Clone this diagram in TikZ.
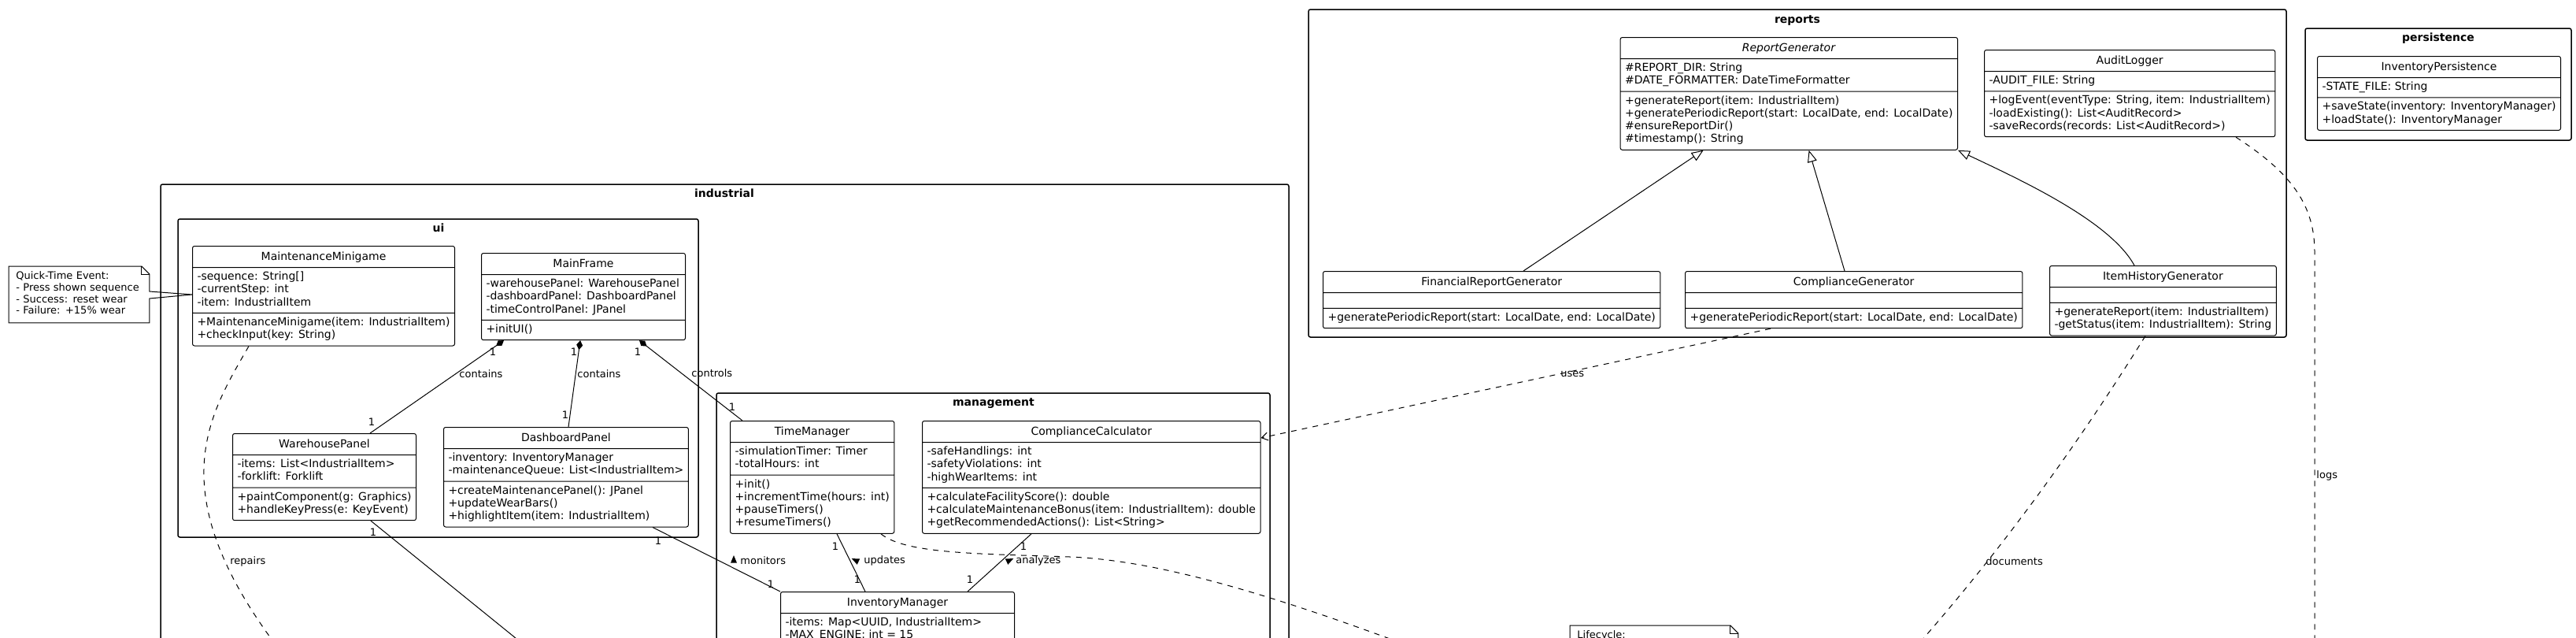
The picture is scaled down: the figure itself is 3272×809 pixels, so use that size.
\documentclass[tikz,border=0pt]{standalone}
\usepackage{fontspec}
\setmainfont{DejaVu Sans}
\usetikzlibrary{arrows.meta,positioning,calc,shapes.multipart,shapes.geometric}

\newcommand\clsfont{\fontsize{7pt}{8.15pt}\selectfont}
\newcommand\notefont{\fontsize{6.5pt}{7.3pt}\selectfont}
\newcommand\ls{\rule[-2.445pt]{0pt}{8.15pt}}% member line
\newcommand\hs{\rule[-2.5pt]{0pt}{9pt}}% class name line
\newcommand\ns{\rule[-2.19pt]{0pt}{7.3pt}}% note line

\tikzset{
  cls/.style={rectangle split, rectangle split parts=3,
    rectangle split part align={center,left,left},
    rectangle split empty part height=0pt, rectangle split empty part depth=0pt,
    rectangle split empty part width=0pt,
    draw=black, line width=0.5pt, fill=white, rounded corners=1.25pt,
    inner xsep=3pt, inner ysep=2pt, align=left, font=\clsfont,
    minimum width=#1*0.5pt, anchor=north west},
  pkg/.style={draw=black, line width=0.75pt, rounded corners=1.25pt},
  pkgtitle/.style={font=\fontsize{7pt}{8pt}\selectfont\bfseries, inner sep=0pt, anchor=base},
  notebox/.style={draw=none, inner xsep=4.5pt, inner ysep=3.15pt, align=left, font=\notefont, anchor=north west},
  notel/.style={draw=black, line width=0.5pt},
  gen/.style={-{Triangle[open,length=7.5pt,width=6pt]}, line width=0.5pt},
  comp/.style={{Diamond[length=6pt,width=4pt]}-, line width=0.5pt},
  assoc/.style={line width=0.5pt},
  dep/.style={line width=0.5pt, dash pattern=on 3.5pt off 3.5pt},
  mult/.style={font=\notefont, inner sep=0pt},
  elabel/.style={font=\notefont, inner sep=0pt, anchor=west},
  dirtri/.style={isosceles triangle, isosceles triangle apex angle=45, fill=black, draw=none, inner sep=0pt, minimum size=4pt}
}

\begin{document}
\begin{tikzpicture}[x=0.5pt,y=-0.5pt]
\path[use as bounding box, fill=white] (0,0) rectangle (3272,809);
\clip (0,0) rectangle (3272,809);

% packages
\draw[pkg] (1662,12) rectangle (2904,428);
\node[pkgtitle] (reportsT) at (2283,29) {reports};
\draw[pkg] (2928,36) rectangle (3266,178);
\node[pkgtitle] (persistT) at (3097,52) {persistence};
\draw[pkg] (204,234) rectangle (1637,1000);
\node[pkgtitle] (industrialT) at (920,250) {industrial};
\draw[pkg] (226,278) rectangle (887,682);
\node[pkgtitle] (uiT) at (557,294) {ui};
\draw[pkg] (910,499) rectangle (1613,1000);
\node[pkgtitle] (mgmtT) at (1262,515) {management};

% reports
\node[cls=426] (repgen) at (2057.6,47) {\hs\textit{ReportGenerator}
  \nodepart{two}\ls\#REPORT\_DIR: String\\\ls\#DATE\_FORMATTER: DateTimeFormatter
  \nodepart{three}\ls+generateReport(item: IndustrialItem)\\\ls+generatePeriodicReport(start: LocalDate, end: LocalDate)\\\ls\#ensureReportDir()\\\ls\#timestamp(): String};
\node[cls=366] (auditlog) at (2520,63) {\hs AuditLogger
  \nodepart{two}\ls-AUDIT\_FILE: String
  \nodepart{three}\ls+logEvent(eventType: String, item: IndustrialItem)\\\ls-loadExisting(): List<AuditRecord>\\\ls-saveRecords(records: List<AuditRecord>)};
\node[cls=425] (fingen) at (1680,344) {\hs FinancialReportGenerator\nodepart{two}\nodepart{three}\ls+generatePeriodicReport(start: LocalDate, end: LocalDate)};
\node[cls=426] (compgen) at (2140,344) {\hs ComplianceGenerator\nodepart{two}\nodepart{three}\ls+generatePeriodicReport(start: LocalDate, end: LocalDate)};
\node[cls=283] (histgen) at (2603,337) {\hs ItemHistoryGenerator\nodepart{two}\nodepart{three}\ls+generateReport(item: IndustrialItem)\\\ls-getStatus(item: IndustrialItem): String};

% persistence
\node[cls=309] (invpers) at (2943,71) {\hs InventoryPersistence
  \nodepart{two}\ls-STATE\_FILE: String
  \nodepart{three}\ls+saveState(inventory: InventoryManager)\\\ls+loadState(): InventoryManager};

% ui
\node[cls=331] (minigame) at (244,312) {\hs MaintenanceMinigame
  \nodepart{two}\ls-sequence: String[]\\\ls-currentStep: int\\\ls-item: IndustrialItem
  \nodepart{three}\ls+MaintenanceMinigame(item: IndustrialItem)\\\ls+checkInput(key: String)};
\node[cls=259] (mainframe) at (611,321) {\hs MainFrame
  \nodepart{two}\ls-warehousePanel: WarehousePanel\\\ls-dashboardPanel: DashboardPanel\\\ls-timeControlPanel: JPanel
  \nodepart{three}\ls+initUI()};
\node[cls=231] (whpanel) at (295,550) {\hs WarehousePanel
  \nodepart{two}\ls-items: List<IndustrialItem>\\\ls-forklift: Forklift
  \nodepart{three}\ls+paintComponent(g: Graphics)\\\ls+handleKeyPress(e: KeyEvent)};
\node[cls=308] (dashpanel) at (563,542) {\hs DashboardPanel
  \nodepart{two}\ls-inventory: InventoryManager\\\ls-maintenanceQueue: List<IndustrialItem>
  \nodepart{three}\ls+createMaintenancePanel(): JPanel\\\ls+updateWearBars()\\\ls+highlightItem(item: IndustrialItem)};

% management
\node[cls=208] (timemgr) at (927,534) {\hs TimeManager
  \nodepart{two}\ls-simulationTimer: Timer\\\ls-totalHours: int
  \nodepart{three}\ls+init()\\\ls+incrementTime(hours: int)\\\ls+pauseTimers()\\\ls+resumeTimers()};
\node[cls=426] (compcalc) at (1171,534) {\hs ComplianceCalculator
  \nodepart{two}\ls-safeHandlings: int\\\ls-safetyViolations: int\\\ls-highWearItems: int
  \nodepart{three}\ls+calculateFacilityScore(): double\\\ls+calculateMaintenanceBonus(item: IndustrialItem): double\\\ls+getRecommendedActions(): List<String>};
\node[cls=297] (invmgr) at (991,751) {\hs InventoryManager
  \nodepart{two}\ls-items: Map<UUID, IndustrialItem>\\\ls-MAX\_ENGINE: int = 15
  \nodepart{three}};

% notes
\node[notebox, text width=80pt] (qtenote) at (11,338) {\ns Quick-Time Event:\\\ns- Press shown sequence\\\ns- Success: reset wear\\\ns- Failure: +15\% wear};
\draw[notel] (qtenote.north west) -- ($(qtenote.north east)+(-10,0)$) -- ($(qtenote.north east)+(0,10)$)
  -- ($(qtenote.north east)+(0,32)$) -- ($(minigame.north west)+(0,62)$) -- ($(qtenote.north east)+(0,41)$)
  -- ($(qtenote.south east)+(0,0)$) -- (qtenote.south west) -- cycle;
\draw[notel] ($(qtenote.north east)+(-10,0)$) |- ($(qtenote.north east)+(0,10)$);

\node[notebox, text width=97.5pt] (lifenote) at (1994,794) {\ns Lifecycle:};
\draw[notel] ($(lifenote.south west)+(0,200)$) -- (lifenote.north west) -- ($(lifenote.north east)+(-10,0)$)
  -- ($(lifenote.north east)+(0,10)$) -- ($(lifenote.south east)+(0,200)$);
\draw[notel] ($(lifenote.north east)+(-10,0)$) |- ($(lifenote.north east)+(0,10)$);

% generalisations
\draw[gen] ($(fingen.north west)+(255,0)$) -- ($(repgen.south west)+(106,0)$);
\draw[gen] ($(compgen.north west)+(203,0)$) -- ($(repgen.south west)+(240,0)$);
\draw[gen] ($(histgen.north west)+(108,0)$) .. controls +(-31,-57) and +(76,36) .. (repgen.south east);

% dependencies
\draw[dep, -{Straight Barb[length=4pt,width=5pt]}] ($(compgen.south west)+(109,0)$) -- ($(compcalc.north east)+(0,22)$);
\coordinate (docend) at (2380,880);
\draw[dep] ($(histgen.south west)+(122,0)$) .. controls +(-55,88) and +(170,-180) .. (docend);
\coordinate (logbend) at (2940,320);
\coordinate (logend) at (2940,900);
\draw[dep] ($(auditlog.south west)+(320,0)$) .. controls +(70,45) and +(0,-60) .. (logbend) -- (logend);
\coordinate (repend) at (400,880);
\draw[dep] ($(minigame.south west)+(72,0)$) .. controls +(-54,94) and +(-210,-240) .. (repend);
\coordinate (tmbend) at (1359,707);
\draw[dep] ($(timemgr.south west)+(192,0)$) .. controls +(31,26) and +(-109,-4) .. (tmbend)
  .. controls +(121,5) and +(-344,-140) .. ($(lifenote.north west)+(0,106)$);

% compositions
\draw[comp] ($(mainframe.south west)+(29,0)$) -- ($(whpanel.north west)+(175,0)$);
\draw[comp] ($(mainframe.south west)+(126,0)$) -- ($(dashpanel.north west)+(159,0)$);
\draw[comp] ($(mainframe.south west)+(201,0)$) -- ($(timemgr.north west)+(16,0)$);

% associations
\draw[assoc] ($(dashpanel.south west)+(266,0)$) -- (invmgr.north west);
\draw[assoc] ($(timemgr.south west)+(136,0)$) -- ($(invmgr.north west)+(108,0)$);
\draw[assoc] ($(compcalc.south west)+(139,0)$) -- ($(invmgr.north west)+(238,0)$);
\coordinate (whend) at (766,900);
\draw[assoc] ($(whpanel.south west)+(176,0)$) -- (whend);

% multiplicities
\node[mult] (m1) at ($(mainframe.south west)+(15,15)$) {1};
\node[mult] (m2) at ($(mainframe.south west)+(118,15)$) {1};
\node[mult] (m3) at ($(mainframe.south west)+(199,15)$) {1};
\node[mult] (m4) at ($(whpanel.north west)+(177,-14)$) {1};
\node[mult] (m5) at ($(dashpanel.north west)+(155,-15)$) {1};
\node[mult] (m6) at ($(timemgr.north west)+(3,-17)$) {1};
\node[mult] (m7) at ($(whpanel.south west)+(179,15)$) {1};
\node[mult] (m8) at ($(dashpanel.south west)+(273,17)$) {1};
\node[mult] (m9) at ($(invmgr.north west)+(-12,-9)$) {1};
\node[mult] (m10) at ($(timemgr.south west)+(134,16)$) {1};
\node[mult] (m11) at ($(invmgr.north west)+(98,-15)$) {1};
\node[mult] (m12) at ($(compcalc.south west)+(129,16)$) {1};
\node[mult] (m13) at ($(invmgr.north west)+(241,-15)$) {1};

% link labels
\node[elabel] (lcont1) at (583,475) {contains};
\node[elabel] (lcont2) at (733,475) {contains};
\node[elabel] (lctrl) at (878,474) {controls};
\node[dirtri, rotate=90] (tmon) at (932,712) {};
\node[elabel] (lmon) at (940,712) {monitors};
\node[dirtri, rotate=155] (tupd) at (1088,712) {};
\node[elabel] (lupd) at (1097,712) {updates};
\node[dirtri, rotate=25] (tana) at (1281,712) {};
\node[elabel] (lana) at (1290,712) {analyzes};
\node[elabel] (lrep) at (292,713) {repairs};
\node[elabel] (luses) at (1982,475) {uses};
\node[elabel] (ldoc) at (2522,713) {documents};
\node[elabel] (llogs) at (2942,604) {logs};
\end{tikzpicture}
\end{document}
